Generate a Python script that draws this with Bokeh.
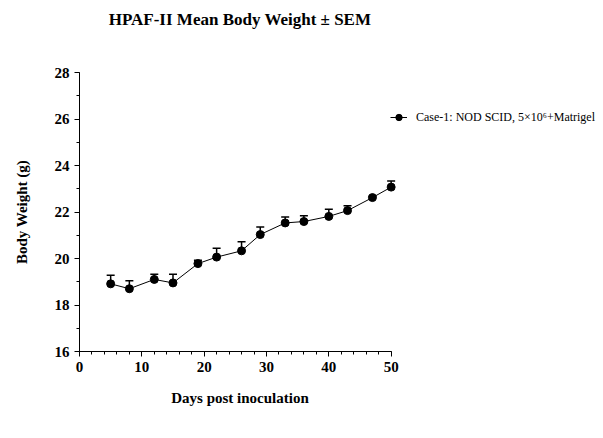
from bokeh.plotting import figure
from bokeh.models import (ColumnDataSource, Range1d, Whisker, TeeHead, Legend,
                          LegendItem, FixedTicker, Title)
from bokeh.embed import file_html
from bokeh.resources import INLINE

# Mean body weight (g) and SEM per measurement day
days = [5, 8, 12, 15, 19, 22, 26, 29, 33, 36, 40, 43, 47, 50]
weight = [18.91, 18.70, 19.10, 18.95, 19.78, 20.06, 20.33, 21.03, 21.53, 21.59,
          21.81, 22.06, 22.62, 23.07]
sem = [0.37, 0.34, 0.22, 0.37, 0.15, 0.38, 0.39, 0.32, 0.25, 0.25, 0.31, 0.21,
       0.05, 0.26]
series_label = "Case-1: NOD SCID, 5\u00d710\u2076+Matrigel"
x_ticks = [0, 10, 20, 30, 40, 50]
y_ticks = [16, 18, 20, 22, 24, 26, 28]

FONT = "Liberation Serif"

src = ColumnDataSource(dict(
    x=days, y=weight, upper=[w + s for w, s in zip(weight, sem)]))

p = figure(frame_width=321, frame_height=279, output_backend="svg",
           toolbar_location=None,
           x_range=Range1d(0, 51.5), y_range=Range1d(16, 28),
           min_border_left=79, min_border_right=203,
           min_border_top=72, min_border_bottom=87)

# blank gap between the plot frame and the title
p.add_layout(Title(text=" ", text_font_size="1px", standoff=34), "above")

p.title.text = "HPAF-II Mean Body Weight \u00b1 SEM"
p.title.align = "center"
p.title.vertical_align = "top"
p.title.text_font = FONT
p.title.text_font_size = "17px"
p.title.text_font_style = "bold"
p.title.text_color = "black"
p.title.standoff = 10

p.outline_line_color = None
p.grid.visible = False
p.background_fill_color = "white"
p.border_fill_color = "white"

for ax in (p.xaxis[0], p.yaxis[0]):
    ax.axis_line_color = "black"
    ax.major_tick_line_color = "black"
    ax.minor_tick_line_color = "black"
    ax.major_tick_out = 5
    ax.major_tick_in = 0
    ax.minor_tick_out = 3
    ax.minor_tick_in = 0
    ax.major_label_text_font = FONT
    ax.major_label_text_font_size = "15px"
    ax.major_label_text_font_style = "bold"
    ax.major_label_text_color = "black"
    ax.axis_label_text_font = FONT
    ax.axis_label_text_font_style = "bold"
    ax.axis_label_text_color = "black"

p.xaxis.bounds = (0, 50)
p.xaxis.ticker = FixedTicker(ticks=x_ticks, minor_ticks=list(range(0, 51, 2)))
p.xaxis.axis_label = "Days post inoculation"
p.xaxis.axis_label_text_font_size = "15px"
p.xaxis.axis_label_standoff = 15

p.yaxis.ticker = FixedTicker(ticks=y_ticks, minor_ticks=list(range(16, 29)))
p.yaxis.axis_label = "Body Weight (g)"
p.yaxis.axis_label_text_font_size = "15px"
p.yaxis.axis_label_standoff = 22

# upper-only error bars
whisk = Whisker(source=src, base="x", upper="upper", lower="y",
                dimension="height", lower_head=None,
                upper_head=TeeHead(size=8, line_color="black", line_width=1.5),
                line_color="black", line_width=1.5)
p.add_layout(whisk)

ln = p.line("x", "y", source=src, line_color="black", line_width=1)
pts = p.scatter("x", "y", source=src, size=8, fill_color="black",
                line_color="black")

legend = Legend(items=[LegendItem(label=series_label, renderers=[ln, pts])],
                location=(-10, 226), glyph_width=17, glyph_height=16,
                label_standoff=9, padding=0, margin=0, spacing=0,
                border_line_color=None, background_fill_alpha=0,
                label_text_font=FONT, label_text_font_size="12px",
                label_text_color="black")
p.add_layout(legend, "right")

open("out.html", "w").write(file_html(p, INLINE))
